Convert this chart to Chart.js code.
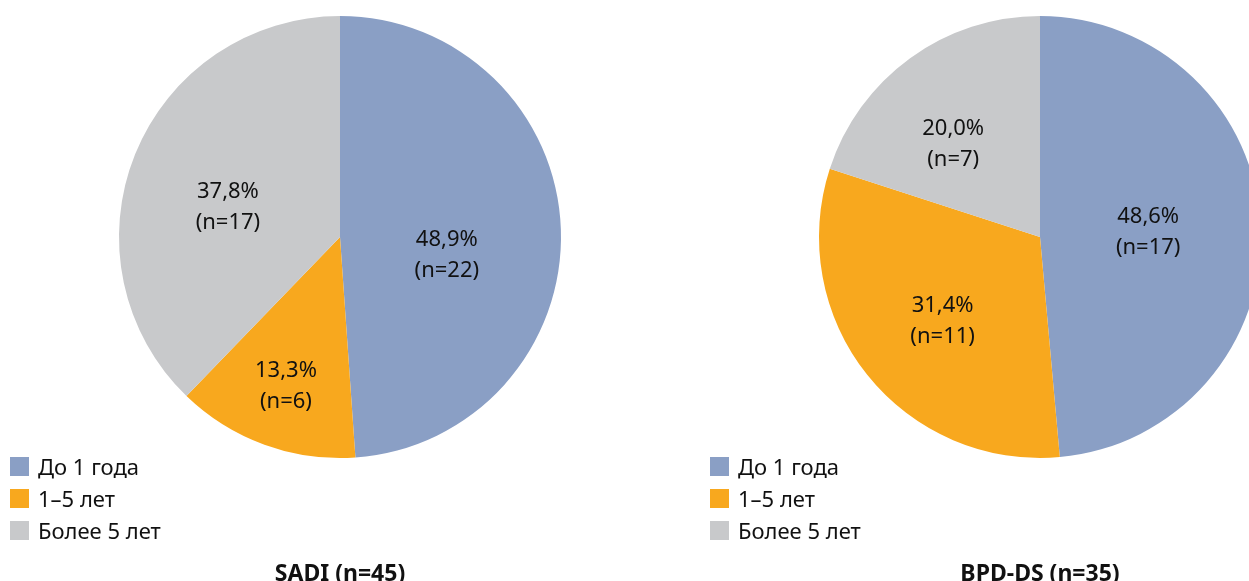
<!DOCTYPE html>
<html>
<head>
<meta charset="utf-8">
<script src="https://cdn.jsdelivr.net/npm/chart.js@4"></script>
<style>
  html, body { margin: 0; padding: 0; background: #fff; }
  body { width: 1249px; height: 581px; overflow: hidden; position: relative;
         font-family: "Noto Sans", "Open Sans", sans-serif; color: #111; }
  .panel { position: absolute; top: 0; width: 700px; height: 581px; }
  .panel canvas { position: absolute; left: 0; top: 0; }
  .legend { position: absolute; left: 10px; top: 450px; font-size: 22px; }
  .legend div { height: 32px; display: flex; align-items: center; }
  .legend span.box { width: 19px; height: 19px; margin-right: 9px; display: inline-block; }
  .caption { position: absolute; left: 0; width: 680px; top: 556px; text-align: center;
             font-weight: bold; font-size: 23px; }
</style>
</head>
<body>
<div class="panel" style="left:0">
  <canvas id="sadiChart" width="700" height="581"></canvas>
  <div class="legend" id="sadiLegend"></div>
  <div class="caption" id="sadiCaption"></div>
</div>
<div class="panel" style="left:700px">
  <canvas id="bpdChart" width="700" height="581"></canvas>
  <div class="legend" id="bpdLegend"></div>
  <div class="caption" id="bpdCaption"></div>
</div>
<script>
/* ------------- данные ------------- */
const categories = ["До 1 года", "1–5 лет", "Более 5 лет"];
const colors     = ["#8a9fc5", "#f8a81e", "#c8c9cb"];
const sadiCounts = [22, 6, 17];
const bpdCounts  = [17, 11, 7];
const titles     = ["SADI", "BPD-DS"];

/* положение подписей: доля радиуса и сдвиг угла (град.) */
const sadiLabelPos = [[0.49, 11.5], [0.715, 0], [0.525, -7]];
const bpdLabelPos  = [[0.49, 0], [0.58, -2], [0.576, -7]];

const fmtPct = (v, total) => (v / total * 100).toFixed(1).replace(".", ",") + "%";

const sliceLabels = {
  id: "sliceLabels",
  afterDatasetsDraw(chart, args, opts) {
    const ctx = chart.ctx;
    const data = chart.data.datasets[0].data;
    const total = data.reduce((a, b) => a + b, 0);
    ctx.save();
    ctx.font = "22px 'Noto Sans', sans-serif";
    ctx.fillStyle = "#111";
    ctx.textAlign = "center";
    ctx.textBaseline = "middle";
    chart.getDatasetMeta(0).data.forEach((arc, i) => {
      const p = arc.getProps(["x", "y", "startAngle", "endAngle", "outerRadius"]);
      const [k, shift] = opts.pos[i];
      const a = (p.startAngle + p.endAngle) / 2 + shift * Math.PI / 180;
      const x = p.x + Math.cos(a) * p.outerRadius * k;
      const y = p.y + Math.sin(a) * p.outerRadius * k;
      ctx.fillText(fmtPct(data[i], total), x, y - 15);
      ctx.fillText("(n=" + data[i] + ")", x, y + 16);
    });
    ctx.restore();
  }
};

function drawPie(id, counts, pos, title) {
  new Chart(document.getElementById(id + "Chart"), {
    type: "pie",
    data: {
      labels: categories,
      datasets: [{ data: counts, backgroundColor: colors, borderWidth: 0 }]
    },
    options: {
      responsive: false,
      animation: false,
      layout: { padding: { left: 119, right: 139, top: 16, bottom: 123 } },
      plugins: {
        legend: { display: false },
        tooltip: { enabled: false },
        sliceLabels: { pos }
      }
    },
    plugins: [sliceLabels]
  });

  const leg = document.getElementById(id + "Legend");
  categories.forEach((c, i) => {
    const row = document.createElement("div");
    row.innerHTML = `<span class="box" style="background:${colors[i]}"></span>${c}`;
    leg.appendChild(row);
  });
  const n = counts.reduce((a, b) => a + b, 0);
  document.getElementById(id + "Caption").textContent = `${title} (n=${n})`;
}

drawPie("sadi", sadiCounts, sadiLabelPos, titles[0]);
drawPie("bpd", bpdCounts, bpdLabelPos, titles[1]);
</script>
</body>
</html>
